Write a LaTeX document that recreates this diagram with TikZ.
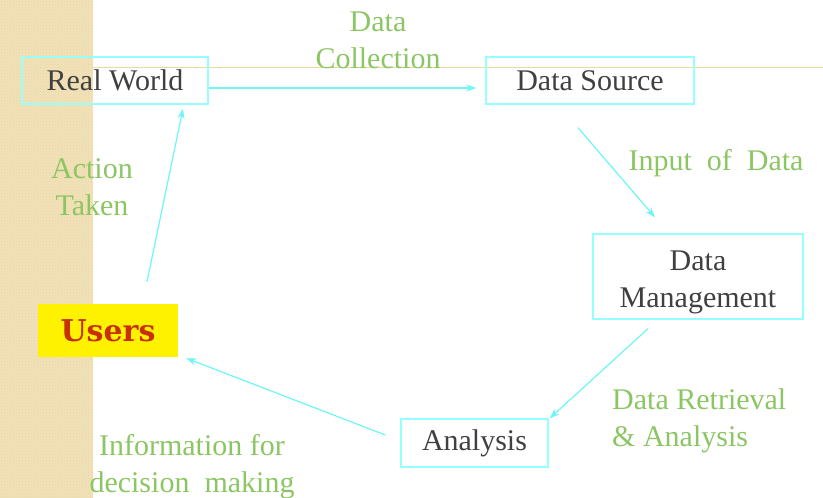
\documentclass[tikz,border=0pt]{standalone}
\usepackage{fontspec}
\setmainfont{Liberation Serif}
\newfontfamily\userfont{DejaVu Serif}
\usepackage{tikz}
\usetikzlibrary{arrows.meta, patterns}
\definecolor{boxcyan}{RGB}{150,255,255}
\definecolor{linecyan}{RGB}{110,245,245}
\definecolor{notegreen}{RGB}{140,198,100}
\definecolor{textgray}{RGB}{64,64,64}
\definecolor{stripbg}{RGB}{242,226,184}
\definecolor{stripdot}{RGB}{230,212,165}
\definecolor{rulecolor}{RGB}{238,218,160}
\definecolor{userred}{RGB}{200,48,0}
\newcommand{\bigtext}{\fontsize{30}{37}\selectfont}
\tikzset{box/.style = {shape=rectangle,draw=boxcyan,line width=1.3pt,inner sep=0pt,text=textgray,font=\bigtext,align=center}}
\tikzset{user/.style = {shape=rectangle,fill=yellow,inner sep=0pt,text=userred,font=\userfont\bfseries\fontsize{30}{36}\selectfont}}
\tikzset{note/.style = {text=notegreen,font=\bigtext,align=center,inner sep=0pt}}
\tikzset{edge/.style = {-{Stealth[length=10pt,width=7pt,inset=3pt]},draw=linecyan,line width=1.2pt}}

\begin{document}
\begin{tikzpicture}[x=1pt,y=-1pt]
            \useasboundingbox (0,0) rectangle (823,498);
            % background strip and rule
            \fill[stripbg] (0,0) rectangle (93,498);
            \fill[pattern=crosshatch dots, pattern color=stripdot] (0,0) rectangle (93,498);
            \draw[rulecolor, line width=1pt] (93,67) -- (823,67);
            % boxes
            \node[box, minimum width=186pt, minimum height=47pt] (rw) at (115,80.5) {Real World};
            \node[box, minimum width=208pt, minimum height=47pt] (ds) at (590,80.5) {Data Source};
            \node[box, minimum width=210pt, minimum height=85pt] (dm) at (698,276.5) {\rule{0pt}{32pt}Data\\Management};
            \node[box, minimum width=147pt, minimum height=48pt] (an) at (474.5,443) {Analysis};
            \node[user, minimum width=140pt, minimum height=53pt] (us) at (108,330.5) {Users};
            % arrows
            \draw[edge, shorten >=9pt] ([yshift=-7.5pt]rw.east) -- ([yshift=-7.5pt]ds.west);
            \draw[edge] ([xshift=-12pt,yshift=-23pt]ds.south) -- ([xshift=-43pt,yshift=16pt]dm.north);
            \draw[edge] ([xshift=-50pt,yshift=-9pt]dm.south) -- ([xshift=1pt]an.north east);
            \draw[edge] ([xshift=-15pt,yshift=8pt]an.west) -- ([xshift=8pt,yshift=-1pt]us.south east);
            \draw[edge] ([xshift=39pt,yshift=22pt]us.north) -- ([xshift=68pt,yshift=-4pt]rw.south);
            % labels
            \node[note] (collect) at (378,40) {Data\\Collection};
            \node[note] (input) at (716,163) {Input\ \ of\ \ Data};
            \node[note, align=left, anchor=west] (retrieve) at (612,421) {Data Retrieval\\\& Analysis};
            \node[note] (inform) at (192,467) {Information for\\decision\ \ making};
            \node[note] (action) at (92,187) {Action\\Taken};
        \end{tikzpicture}
\end{document}
